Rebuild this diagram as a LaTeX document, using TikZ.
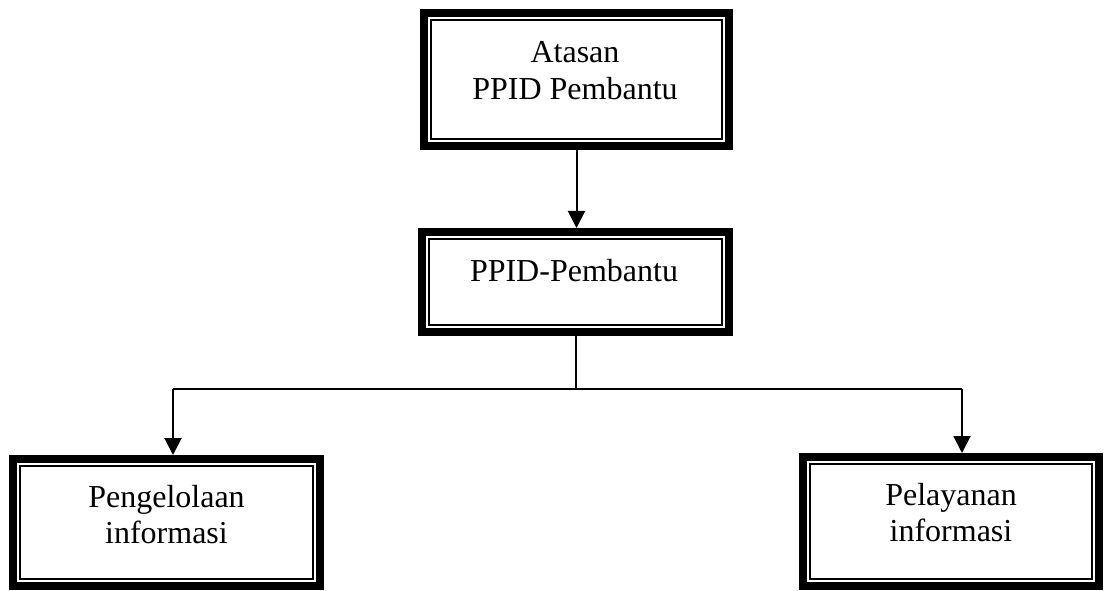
\documentclass[tikz,border=0pt]{standalone}
\usepackage{fontspec}
\setmainfont{Liberation Serif}
\usetikzlibrary{arrows.meta}
\tikzset{
  boxnode/.style={rectangle, draw=none, inner sep=0pt, outer sep=0pt},
  outerframe/.style={line width=8pt, line join=miter},
  innerframe/.style={line width=2pt, line join=miter},
  txt/.style={anchor=base, inner sep=0pt, font=\fontsize{32pt}{37pt}\selectfont},
  conn/.style={line width=2pt},
  arr/.style={line width=2pt, -{Triangle[width=17pt,length=17pt]}}
}
\begin{document}
\begin{tikzpicture}[x=1pt,y=1pt]
\useasboundingbox (0,0) rectangle (1109,590);
% boxes
\node[boxnode, minimum width=313pt, minimum height=141pt] (top) at (576.5,510.5) {};
\node[boxnode, minimum width=315pt, minimum height=108pt] (mid) at (575.5,308) {};
\node[boxnode, minimum width=315pt, minimum height=135pt] (lft) at (166.5,67.5) {};
\node[boxnode, minimum width=304pt, minimum height=137pt] (rgt) at (951,68.5) {};
\foreach \n in {top,mid,lft,rgt}{
  \draw[outerframe] ([shift={(4pt,-4pt)}]\n.north west) rectangle ([shift={(-4pt,4pt)}]\n.south east);
  \draw[innerframe] ([shift={(11pt,-11pt)}]\n.north west) rectangle ([shift={(-11pt,11pt)}]\n.south east);
}
% texts
\node[txt] (topa) at (575,527) {Atasan};
\node[txt] (topb) at (575,490) {PPID Pembantu};
\node[txt] (mida) at (574,308) {PPID-Pembantu};
\node[txt] (lfta) at (166.5,83) {Pengelolaan};
\node[txt] (lftb) at (166.5,47) {informasi};
\node[txt] (rgta) at (951,85) {Pelayanan};
\node[txt] (rgtb) at (951,49) {informasi};
% connectors
\coordinate (jm) at (575.5,201);
\coordinate (jl) at (173,201);
\coordinate (jr) at (962,201);
\draw[arr] (top.south) -- (top.south |- mid.north);
\draw[conn] (mid.south) -- (jm);
\draw[line width=1.5pt] (jl) -- (jr);
\draw[arr] (jl) -- (jl |- lft.north);
\draw[arr] (jr) -- (jr |- rgt.north);
\end{tikzpicture}
\end{document}
